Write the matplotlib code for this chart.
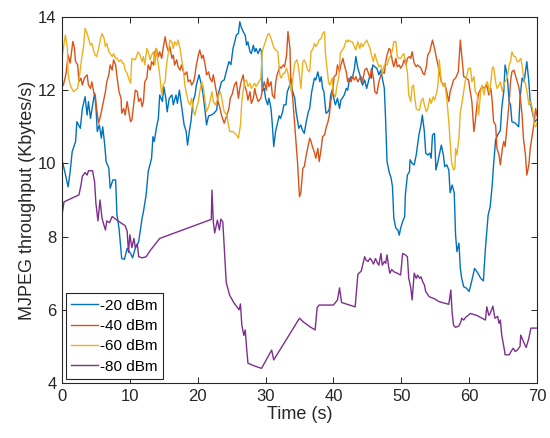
"""
MJPEG throughput over time at four transmit power levels.
"""

import matplotlib
matplotlib.use('Agg')
import matplotlib.pyplot as plt

# -20 dBm
blue_t = [0.0, 0.5, 0.9, 1.2, 1.5, 2.0, 2.2, 2.7, 3.0, 3.4,
          3.7, 3.9, 4.2, 4.4, 4.8, 5.0, 5.2, 5.5, 5.8, 6.0,
          6.3, 6.5, 6.9, 7.1, 7.5, 7.9, 8.1, 8.4, 8.8, 9.2,
          9.6, 10.1, 10.4, 10.8, 11.3, 11.8, 12.0, 12.4, 12.7, 13.2,
          13.4, 13.6, 13.9, 14.2, 14.4, 14.8, 15.0, 15.3, 15.5, 15.8,
          16.2, 16.4, 16.8, 17.0, 17.3, 17.6, 18.0, 18.3, 18.5, 18.8,
          19.0, 19.3, 19.6, 19.8, 20.2, 20.6, 20.8, 21.1, 21.3, 21.6,
          22.0, 22.4, 22.8, 23.0, 23.5, 23.9, 24.2, 24.6, 24.9, 25.2,
          25.4, 25.7, 26.0, 26.2, 26.4, 26.7, 27.0, 27.2, 27.4, 27.7,
          27.9, 28.2, 28.4, 28.6, 28.9, 29.2, 29.4, 29.5, 29.8, 30.0,
          30.3, 30.5, 30.8, 31.0, 31.2, 31.5, 31.7, 32.0, 32.2, 32.5,
          32.7, 33.0, 33.2, 33.5, 33.7, 34.0, 34.3, 34.5, 34.9, 35.2,
          35.4, 35.7, 36.0, 36.3, 36.5, 36.8, 37.2, 37.4, 37.7, 38.0,
          38.2, 38.4, 38.6, 38.9, 39.2, 39.4, 39.6, 39.9, 40.1, 40.3,
          40.6, 40.9, 41.1, 41.3, 41.6, 41.9, 42.1, 42.3, 42.6, 42.8,
          43.1, 43.3, 43.6, 43.9, 44.1, 44.3, 44.6, 44.9, 45.1, 45.4,
          45.6, 45.8, 46.1, 46.4, 46.7, 47.0, 47.2, 47.5, 47.7, 47.9,
          48.2, 48.5, 48.7, 48.9, 49.2, 49.5, 49.7, 49.9, 50.2, 50.5,
          50.6, 50.9, 51.2, 51.3, 51.6, 51.9, 52.2, 52.4, 52.6, 52.9,
          53.1, 53.4, 53.6, 53.9, 54.2, 54.4, 54.6, 54.9, 55.1, 55.4,
          55.6, 55.9, 56.2, 56.4, 56.7, 57.0, 57.2, 57.5, 57.8, 58.0,
          58.2, 58.5, 58.7, 58.9, 59.2, 59.6, 60.0, 60.3, 60.8, 61.3,
          61.7, 62.1, 62.4, 62.8, 63.1, 63.4, 63.6, 63.9, 64.2, 64.6,
          64.8, 65.1, 65.3, 65.6, 65.9, 66.1, 66.3, 66.8, 67.3, 67.5,
          67.8, 68.1, 68.5, 68.8, 69.0, 69.4, 69.7, 70.0]
blue_v = [10.1, 9.7, 9.36, 9.77, 10.32, 10.6, 11.14, 10.96, 11.5, 11.82,
          11.32, 11.69, 11.23, 11.46, 11.92, 11.55, 10.87, 11.05, 10.69, 11.0,
          10.5, 10.05, 9.87, 9.32, 9.55, 9.55, 8.59, 8.23, 7.4, 7.38,
          7.68, 7.54, 7.42, 7.68, 7.86, 8.5, 8.68, 9.14, 9.77, 10.14,
          10.73, 10.6, 10.96, 11.23, 11.87, 11.69, 12.1, 11.78, 11.41, 11.78,
          11.87, 11.6, 11.87, 11.64, 12.0, 11.6, 11.05, 10.87, 10.5, 10.92,
          11.14, 11.69, 11.87, 12.14, 12.42, 12.1, 11.87, 11.41, 11.05, 11.3,
          11.32, 11.37, 11.46, 11.87, 12.23, 12.28, 12.5, 12.78, 12.7, 13.14,
          13.28, 13.51, 13.55, 13.87, 13.73, 13.6, 13.5, 13.23, 13.32, 13.05,
          13.0, 13.23, 13.05, 13.14, 13.0, 13.14, 13.05, 11.96, 12.05, 11.78,
          11.6, 11.78, 11.5, 11.05, 10.46, 10.9, 11.05, 11.3, 11.23, 11.4,
          11.6, 11.6, 11.96, 12.1, 12.33, 11.96, 11.78, 11.41, 10.96, 11.05,
          10.92, 10.82, 11.14, 11.41, 11.5, 11.96, 12.33, 12.28, 12.5, 12.23,
          12.37, 12.05, 11.96, 11.37, 11.41, 11.5, 11.87, 12.05, 11.73, 11.6,
          11.78, 11.5, 11.73, 11.78, 11.87, 12.05, 12.0, 12.23, 12.37, 12.33,
          12.6, 12.92, 12.6, 12.42, 12.23, 12.14, 12.28, 12.05, 12.2, 12.42,
          12.33, 12.69, 12.64, 12.6, 12.42, 12.55, 12.33, 12.05, 11.14, 10.05,
          9.77, 9.6, 9.36, 8.5, 8.23, 8.18, 8.04, 8.23, 8.41, 8.55,
          9.14, 9.68, 9.77, 10.1, 10.0, 9.96, 10.23, 10.5, 10.78, 11.05,
          11.32, 10.87, 10.28, 10.23, 10.28, 10.14, 10.78, 10.82, 9.82, 10.05,
          10.23, 10.5, 10.23, 9.91, 9.96, 9.82, 9.2, 9.41, 9.2, 8.04,
          7.59, 7.82, 7.13, 6.86, 6.63, 6.59, 6.5, 6.72, 7.13, 7.0,
          6.86, 6.79, 7.68, 8.59, 8.82, 9.41, 9.96, 10.64, 10.78, 10.9,
          11.5, 11.96, 12.69, 12.42, 11.69, 11.6, 11.14, 11.1, 11.0, 11.78,
          12.33, 12.23, 12.78, 12.23, 11.69, 11.32, 11.14, 11.2]

# -40 dBm
orange_t = [0.0, 0.2, 0.6, 0.9, 1.2, 1.6, 1.8, 2.0, 2.3, 2.5,
            2.8, 3.0, 3.3, 3.7, 3.9, 4.2, 4.4, 4.7, 4.9, 5.1,
            5.4, 5.7, 5.9, 6.2, 6.4, 6.6, 6.9, 7.1, 7.4, 7.6,
            7.9, 8.1, 8.4, 8.7, 8.8, 9.1, 9.3, 9.6, 9.8, 10.1,
            10.3, 10.6, 10.8, 11.1, 11.3, 11.6, 11.8, 12.0, 12.2, 12.5,
            12.7, 13.0, 13.2, 13.5, 13.7, 13.9, 14.2, 14.4, 14.7, 14.9,
            15.2, 15.4, 15.7, 15.9, 16.2, 16.4, 16.6, 16.9, 17.1, 17.4,
            17.6, 17.9, 18.1, 18.4, 18.6, 18.9, 19.1, 19.4, 19.6, 19.8,
            20.1, 20.3, 20.6, 20.8, 21.1, 21.3, 21.6, 21.8, 22.1, 22.3,
            22.6, 22.8, 23.0, 23.3, 23.5, 23.9, 24.3, 24.6, 24.8, 25.1,
            25.4, 25.7, 26.0, 26.2, 26.4, 26.7, 26.9, 27.2, 27.4, 27.7,
            27.9, 28.2, 28.4, 28.6, 28.9, 29.3, 29.6, 29.8, 30.1, 30.3,
            30.5, 30.8, 31.0, 31.3, 31.5, 31.7, 32.1, 32.3, 32.6, 32.8,
            33.1, 33.3, 33.6, 33.7, 34.0, 34.3, 34.5, 34.7, 35.0, 35.2,
            35.5, 35.7, 36.0, 36.2, 36.5, 36.7, 36.9, 37.2, 37.4, 37.7,
            37.9, 38.2, 38.4, 38.7, 38.9, 39.2, 39.4, 39.6, 39.9, 40.1,
            40.4, 40.6, 40.9, 41.1, 41.4, 41.6, 41.9, 42.1, 42.3, 42.6,
            42.8, 43.1, 43.3, 43.6, 43.9, 44.1, 44.3, 44.6, 44.9, 45.1,
            45.4, 45.6, 45.9, 46.1, 46.4, 46.7, 47.0, 47.2, 47.5, 47.7,
            47.9, 48.2, 48.4, 48.7, 48.9, 49.2, 49.4, 49.7, 49.9, 50.2,
            50.4, 50.7, 50.9, 51.2, 51.4, 51.6, 51.9, 52.2, 52.4, 52.7,
            52.9, 53.2, 53.4, 53.7, 53.9, 54.2, 54.3, 54.6, 54.9, 55.1,
            55.4, 55.6, 55.9, 56.2, 56.4, 56.7, 57.0, 57.2, 57.5, 57.7,
            58.0, 58.4, 58.7, 58.9, 59.2, 59.6, 59.9, 60.1, 60.4, 60.7,
            60.9, 61.2, 61.4, 61.9, 62.3, 62.6, 62.9, 63.2, 63.4, 63.6,
            63.9, 64.1, 64.4, 64.6, 64.9, 65.1, 65.3, 65.6, 65.9, 66.1,
            66.3, 66.6, 66.8, 67.1, 67.3, 67.5, 67.8, 68.0, 68.3, 68.5,
            68.8, 69.0, 69.3, 69.6, 69.8, 70.0]
orange_v = [12.1, 12.14, 12.46, 12.96, 12.74, 13.33, 13.19, 12.78, 12.7, 12.23,
            12.33, 12.14, 12.33, 12.42, 12.14, 12.05, 12.23, 11.92, 11.87, 11.5,
            11.1, 11.32, 11.5, 11.78, 11.96, 12.23, 12.42, 12.69, 12.55, 12.83,
            12.69, 12.37, 11.96, 11.78, 11.37, 11.5, 11.32, 11.69, 11.46, 11.14,
            11.19, 11.69, 12.0, 11.96, 11.69, 11.78, 11.55, 11.69, 12.23, 12.33,
            12.69, 12.55, 12.78, 12.69, 13.05, 13.14, 12.92, 13.05, 12.87, 13.14,
            13.46, 13.23, 13.05, 13.19, 12.87, 12.96, 12.69, 12.83, 12.64, 12.55,
            12.69, 12.5, 12.42, 12.5, 12.23, 12.28, 12.14, 12.23, 12.42, 12.69,
            12.96, 13.1, 12.87, 12.96, 12.69, 12.42, 12.5, 12.33, 12.23, 12.42,
            12.1, 11.87, 11.69, 11.5, 11.32, 11.1, 11.32, 11.5, 11.78, 11.9,
            12.14, 12.23, 11.78, 12.05, 12.23, 12.42, 12.14, 11.96, 11.73, 11.96,
            11.64, 11.78, 12.05, 11.87, 11.69, 11.78, 12.05, 12.23, 12.0, 12.33,
            12.1, 12.23, 11.87, 11.78, 12.23, 12.42, 12.64, 12.6, 12.69, 12.64,
            12.96, 13.6, 13.14, 12.33, 11.78, 11.05, 10.55, 10.05, 9.09, 9.2,
            9.87, 9.91, 10.23, 10.41, 10.69, 10.6, 10.46, 10.3, 10.14, 10.41,
            10.05, 10.41, 10.73, 10.78, 10.96, 11.14, 11.32, 11.69, 11.96, 12.37,
            12.42, 12.69, 12.5, 12.69, 12.87, 12.69, 12.5, 12.23, 12.33, 12.23,
            12.37, 12.28, 12.37, 12.23, 12.33, 12.37, 12.23, 12.55, 12.6, 12.5,
            12.33, 12.6, 12.33, 11.96, 11.9, 12.23, 12.42, 12.5, 12.46, 12.78,
            12.96, 13.14, 13.1, 12.78, 12.64, 12.87, 12.64, 12.69, 12.6, 12.69,
            12.83, 12.69, 12.87, 12.92, 12.87, 13.05, 12.74, 12.64, 12.69, 12.64,
            12.6, 12.46, 12.42, 12.64, 12.96, 13.05, 13.14, 13.37, 13.14, 12.96,
            12.69, 12.5, 12.23, 12.14, 12.19, 11.96, 11.69, 11.96, 12.14, 12.28,
            12.33, 12.5, 13.37, 12.96, 12.37, 12.33, 12.28, 12.05, 11.69, 10.87,
            11.14, 11.69, 11.92, 12.1, 12.05, 12.14, 11.87, 12.05, 11.69, 11.14,
            11.05, 10.41, 10.23, 9.96, 10.41, 10.6, 10.46, 11.05, 11.69, 12.23,
            12.5, 12.55, 12.42, 12.23, 12.1, 11.87, 11.32, 10.69, 10.23, 9.68,
            9.96, 10.41, 10.78, 11.14, 11.5, 11.3]

# -60 dBm
yellow_t = [0.0, 0.2, 0.5, 0.8, 0.9, 1.1, 1.3, 1.7, 2.0, 2.3,
            2.6, 2.9, 3.2, 3.4, 3.7, 3.9, 4.2, 4.4, 4.7, 4.9,
            5.1, 5.4, 5.7, 5.9, 6.2, 6.4, 6.6, 6.9, 7.1, 7.4,
            7.6, 7.9, 8.1, 8.4, 8.7, 8.9, 9.1, 9.3, 9.6, 9.8,
            10.1, 10.3, 10.8, 11.2, 11.5, 11.8, 12.0, 12.2, 12.5, 12.7,
            13.0, 13.2, 13.5, 13.7, 13.9, 14.2, 14.4, 14.7, 14.9, 15.2,
            15.4, 15.7, 15.9, 16.2, 16.4, 16.6, 16.9, 17.1, 17.4, 17.6,
            17.9, 18.1, 18.4, 18.6, 18.9, 19.1, 19.4, 19.6, 19.8, 20.1,
            20.3, 20.6, 20.8, 21.1, 21.3, 21.6, 21.8, 22.1, 22.3, 22.6,
            22.8, 23.1, 23.3, 23.5, 23.9, 24.3, 24.7, 25.2, 25.7, 26.0,
            26.3, 26.5, 26.9, 27.2, 27.4, 27.7, 27.9, 28.4, 28.6, 28.9,
            29.3, 29.5, 29.8, 30.3, 30.5, 30.8, 31.1, 31.3, 31.5, 31.8,
            32.1, 32.3, 32.6, 32.8, 33.1, 33.3, 33.6, 33.8, 34.1, 34.3,
            34.6, 34.8, 35.0, 35.2, 35.5, 35.7, 36.0, 36.2, 36.5, 36.7,
            37.0, 37.2, 37.4, 37.7, 37.9, 38.2, 38.4, 38.7, 38.8, 39.0,
            39.3, 39.5, 39.8, 40.0, 40.3, 40.5, 40.8, 41.0, 41.3, 41.5,
            41.9, 42.1, 42.3, 42.6, 42.8, 43.1, 43.3, 43.6, 43.9, 44.1,
            44.3, 44.6, 44.9, 45.1, 45.4, 45.6, 45.9, 46.1, 46.4, 46.7,
            47.0, 47.2, 47.5, 47.7, 47.9, 48.2, 48.4, 48.7, 48.9, 49.2,
            49.4, 49.7, 49.9, 50.2, 50.4, 50.7, 50.9, 51.1, 51.4, 51.6,
            51.8, 52.0, 52.2, 52.4, 52.7, 52.9, 53.2, 53.4, 53.7, 53.9,
            54.2, 54.4, 54.7, 54.9, 55.2, 55.4, 55.6, 55.9, 56.2, 56.4,
            56.7, 57.0, 57.2, 57.4, 57.7, 57.9, 58.0, 58.2, 58.5, 58.7,
            58.9, 59.2, 59.4, 59.7, 59.9, 60.2, 60.4, 60.7, 60.9, 61.2,
            61.4, 61.7, 61.9, 62.2, 62.4, 62.7, 63.0, 63.2, 63.4, 63.6,
            63.9, 64.1, 64.4, 64.6, 64.9, 65.1, 65.3, 65.6, 65.9, 66.1,
            66.3, 66.6, 66.8, 67.1, 67.3, 67.6, 67.8, 68.1, 68.3, 68.6,
            68.8, 69.1, 69.4, 69.6, 69.8, 70.0]
yellow_v = [12.9, 13.14, 13.51, 13.14, 12.46, 12.23, 12.1, 11.96, 12.0, 12.05,
            12.42, 12.87, 13.23, 13.69, 13.55, 13.42, 13.23, 13.28, 13.05, 12.96,
            12.92, 13.14, 13.42, 13.55, 13.42, 13.19, 13.28, 13.05, 13.0, 12.92,
            13.0, 12.87, 12.87, 12.78, 12.83, 12.74, 12.74, 12.55, 12.46, 12.33,
            12.19, 12.87, 12.83, 13.05, 12.96, 12.78, 12.92, 12.69, 13.14, 13.05,
            12.83, 12.96, 13.05, 12.69, 13.14, 12.69, 12.42, 11.87, 12.14, 12.23,
            12.69, 13.05, 13.37, 13.32, 13.14, 13.32, 13.23, 13.37, 13.14, 12.87,
            12.55, 12.14, 11.87, 11.69, 11.6, 11.78, 11.41, 11.32, 11.5, 11.69,
            11.96, 12.23, 12.1, 11.69, 11.41, 11.55, 11.69, 11.96, 11.69, 11.6,
            11.69, 11.87, 11.96, 11.82, 11.41, 11.32, 10.87, 10.87, 10.78, 10.69,
            11.05, 11.69, 12.23, 12.28, 12.1, 12.19, 12.05, 12.19, 12.1, 12.19,
            12.33, 13.05, 13.23, 13.51, 13.55, 13.42, 13.23, 13.14, 13.1, 13.05,
            12.42, 12.33, 12.46, 12.46, 12.6, 12.46, 12.14, 11.96, 12.46, 12.74,
            12.83, 12.69, 12.42, 12.05, 12.78, 12.83, 12.69, 12.55, 12.5, 13.05,
            13.14, 13.28, 13.19, 13.28, 13.37, 13.42, 13.55, 13.6, 13.05, 12.69,
            12.19, 12.14, 12.33, 11.92, 11.82, 12.1, 12.37, 13.0, 13.1, 13.14,
            13.37, 13.32, 13.37, 13.32, 13.32, 13.19, 13.1, 13.32, 13.14, 13.28,
            13.19, 13.28, 13.37, 13.28, 13.14, 12.96, 12.78, 13.0, 12.8, 12.64,
            12.69, 12.46, 12.69, 12.74, 12.69, 12.87, 12.92, 13.1, 13.33, 13.33,
            12.92, 12.87, 12.87, 12.96, 13.0, 12.69, 12.5, 11.87, 11.69, 12.1,
            12.14, 11.78, 11.5, 11.46, 11.46, 11.69, 11.78, 11.6, 11.41, 11.5,
            11.78, 11.64, 11.82, 11.73, 11.92, 12.14, 12.83, 12.23, 12.1, 12.19,
            11.78, 11.14, 10.6, 10.05, 9.82, 9.87, 10.41, 10.23, 10.69, 11.41,
            11.6, 11.96, 12.23, 12.42, 12.6, 12.6, 12.23, 12.37, 11.96, 11.87,
            11.32, 11.96, 12.14, 11.87, 12.14, 12.23, 11.92, 12.23, 12.6, 12.64,
            12.23, 12.05, 12.14, 12.23, 11.96, 12.14, 12.23, 12.33, 12.69, 12.78,
            13.05, 12.92, 12.92, 12.78, 12.78, 12.87, 12.69, 12.23, 12.19, 11.87,
            11.6, 11.69, 11.41, 11.05, 11.0, 11.1]

# -80 dBm
purple_t = [0.0, 0.3, 2.5, 2.8, 3.0, 3.4, 3.7, 3.9, 4.5, 4.8,
            5.0, 5.3, 5.6, 5.9, 6.2, 6.4, 6.6, 7.0, 7.4, 8.1,
            8.8, 9.3, 9.6, 9.8, 10.0, 10.3, 10.6, 10.8, 11.1, 11.3,
            11.8, 12.4, 13.0, 14.4, 22.0, 22.1, 22.3, 22.5, 22.9, 23.2,
            23.4, 23.7, 23.9, 24.2, 24.7, 25.3, 26.1, 26.3, 26.5, 26.8,
            27.0, 27.2, 27.4, 28.3, 29.4, 30.2, 30.9, 31.2, 35.0, 35.5,
            36.5, 37.3, 37.6, 37.9, 40.0, 40.6, 40.9, 41.2, 43.2, 43.6,
            44.1, 44.6, 44.8, 45.1, 45.4, 45.6, 45.9, 46.2, 46.5, 46.7,
            47.0, 47.2, 47.5, 47.7, 47.9, 48.1, 48.3, 48.6, 48.9, 49.4,
            49.9, 50.2, 50.6, 50.9, 51.1, 51.4, 51.6, 51.9, 52.2, 52.4,
            52.7, 52.9, 53.2, 53.4, 53.6, 54.1, 54.9, 55.6, 56.4, 57.0,
            57.3, 57.5, 57.7, 58.0, 58.5, 58.8, 58.9, 59.2, 59.5, 60.2,
            61.2, 62.4, 62.6, 62.9, 63.1, 63.5, 63.8, 64.2, 64.4, 64.6,
            64.8, 65.2, 65.3, 65.9, 66.3, 66.5, 66.8, 67.1, 67.5, 67.6,
            68.0, 68.4, 68.8, 69.1, 70.0]
purple_v = [8.59, 8.95, 9.14, 9.41, 9.65, 9.75, 9.68, 9.8, 9.8, 9.5,
            8.9, 8.43, 9.0, 8.5, 8.3, 8.18, 8.43, 8.38, 8.55, 8.45,
            8.36, 8.3, 8.15, 7.57, 8.05, 7.7, 7.95, 7.7, 7.8, 7.45,
            7.42, 7.45, 7.62, 7.95, 8.47, 9.27, 8.4, 8.1, 8.45, 8.18,
            8.48, 8.4, 7.75, 6.75, 6.4, 6.2, 6.0, 6.16, 5.58, 5.3,
            5.45, 4.97, 4.54, 4.47, 4.4, 4.67, 4.9, 4.63, 5.77, 5.68,
            5.54, 5.45, 6.06, 6.13, 6.13, 6.27, 6.6, 6.2, 6.08, 6.97,
            7.06, 7.45, 7.36, 7.32, 7.41, 7.36, 7.25, 7.4, 7.27, 7.22,
            7.54, 7.22, 7.32, 7.27, 7.5, 7.22, 7.0, 7.1, 7.04, 7.0,
            6.95, 7.54, 7.5, 7.45, 6.86, 6.6, 6.27, 7.0, 6.86, 6.95,
            6.86, 6.9, 6.75, 6.68, 6.5, 6.36, 6.3, 6.22, 6.18, 6.15,
            6.54, 5.9, 5.58, 5.52, 5.56, 5.68, 5.77, 5.72, 5.8, 5.9,
            5.84, 5.72, 6.08, 5.85, 5.9, 6.1, 5.77, 5.82, 5.63, 5.72,
            5.31, 4.9, 4.77, 4.77, 4.9, 4.95, 4.86, 4.9, 5.0, 5.31,
            5.13, 4.97, 5.22, 5.5, 5.5]

labels = ['-20 dBm', '-40 dBm', '-60 dBm', '-80 dBm']
colors = ['#0072BD', '#D95319', '#EDB120', '#7E2F8E']
x_ticks = [0, 10, 20, 30, 40, 50, 60, 70]
y_ticks = [4, 6, 8, 10, 12, 14]

plt.rcParams['font.family'] = ['Liberation Sans', 'DejaVu Sans']

fig = plt.figure(figsize=(5.5, 4.38), dpi=100)
ax = fig.add_axes([62 / 550, 55 / 438, 475 / 550, 366 / 438])

series = [(blue_t, blue_v), (orange_t, orange_v),
          (yellow_t, yellow_v), (purple_t, purple_v)]
for (t, v), lab, col in zip(series, labels, colors):
    ax.plot(t, v, color=col, lw=1.0, label=lab)

ax.set_xlim(0, 70)
ax.set_ylim(4, 14)
ax.set_xticks(x_ticks)
ax.set_yticks(y_ticks)
ax.tick_params(direction='in', top=True, right=True, length=4, width=0.7,
               labelsize=12, colors='0.15', pad=4)
for s in ax.spines.values():
    s.set_linewidth(0.8)
    s.set_color('0.15')

ax.set_xlabel('Time (s)', fontsize=13, color='0.15', labelpad=1.5)
ax.set_ylabel('MJPEG throughput (Kbytes/s)', fontsize=13, color='0.15', labelpad=1)

leg = ax.legend(loc='lower left', fontsize=11, fancybox=False, framealpha=1,
                edgecolor='0.15', handlelength=1.75, handletextpad=0.15,
                labelspacing=0.42, borderpad=0.35, borderaxespad=0.25)
leg.get_frame().set_linewidth(0.8)

fig.savefig('out.png', dpi=100)
